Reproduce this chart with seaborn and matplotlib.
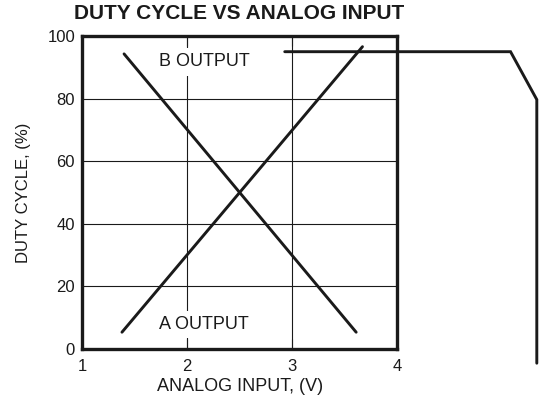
import matplotlib
matplotlib.use("Agg")
import matplotlib.pyplot as plt
import seaborn as sns
import pandas as pd

# Transfer curves: duty cycle of each output against the analog input
analog_a = [1.38, 3.67]
duty_a = [5.4, 96.6]
analog_b = [1.40, 3.61]
duty_b = [94.3, 5.4]

# Leader line that runs from the B OUTPUT label off to the right edge
leader_x = [2.93, 5.08, 5.33, 5.33]
leader_y = [95.0, 95.0, 79.7, -4.5]

x_ticks = [1, 2, 3, 4]
y_ticks = [0, 20, 40, 60, 80, 100]

sns.set_theme(style="white")
plt.rcParams["font.family"] = ["Liberation Sans", "DejaVu Sans"]

fig = plt.figure(figsize=(5.47, 4.05), dpi=100)
pos = [0.150, 0.138, 0.576, 0.773]
ax = fig.add_axes(pos)

df_a = pd.DataFrame({"x": analog_a, "y": duty_a})
df_b = pd.DataFrame({"x": analog_b, "y": duty_b})
df_l = pd.DataFrame({"x": leader_x, "y": leader_y})

for df in (df_a, df_b, df_l):
    sns.lineplot(data=df, x="x", y="y", ax=ax, color="#1a1a1a", lw=2.1,
                 sort=False, estimator=None, zorder=4)
ax.lines[-1].set_clip_on(False)
ax.lines[-1].set_solid_joinstyle("miter")

ax.set_xlim(1, 4)
ax.set_ylim(0, 100)
ax.set_xticks(x_ticks)
ax.set_yticks(y_ticks)
ax.set_xticklabels([str(v) for v in x_ticks])
ax.set_yticklabels([str(v) for v in y_ticks])

ax.grid(True, color="#1a1a1a", lw=0.8)
ax.set_axisbelow(True)
for s in ax.spines.values():
    s.set_visible(True)
    s.set_color("#1a1a1a")
    s.set_linewidth(2.4)
    s.set_zorder(5)

ax.tick_params(axis="both", length=0, labelsize=12, colors="#1a1a1a")
ax.tick_params(axis="x", pad=7)
ax.tick_params(axis="y", pad=5)

ax.set_xlabel("ANALOG INPUT, (V)", fontsize=13, color="#1a1a1a", labelpad=3)
ax.set_ylabel("DUTY CYCLE, (%)", fontsize=12, color="#1a1a1a", labelpad=12)
ax.set_title("DUTY CYCLE VS ANALOG INPUT", fontsize=15, fontweight="bold",
             color="#1a1a1a", pad=12)

box = dict(facecolor="white", edgecolor="none", boxstyle="square,pad=0.3")
ax.text(2.16, 90.3, "B OUTPUT", fontsize=13, ha="center", va="baseline",
        color="#1a1a1a", bbox=box, zorder=3)
ax.text(2.16, 6.4, "A OUTPUT", fontsize=13, ha="center", va="baseline",
        color="#1a1a1a", bbox=box, zorder=3)

# Inward tick marks on top and bottom edges, drawn above the label boxes
tk = fig.add_axes(pos, frameon=False, zorder=ax.get_zorder() + 1)
tk.patch.set_alpha(0)
tk.set_xlim(1, 4)
tk.set_ylim(0, 100)
tk.set_xticks(x_ticks)
tk.set_yticks([])
tk.xaxis.set_ticks_position("both")
tk.tick_params(axis="x", which="major", direction="in", length=7, width=0.8,
               color="#1a1a1a", labeltop=False, labelbottom=False)

fig.savefig("out.png", dpi=100)
